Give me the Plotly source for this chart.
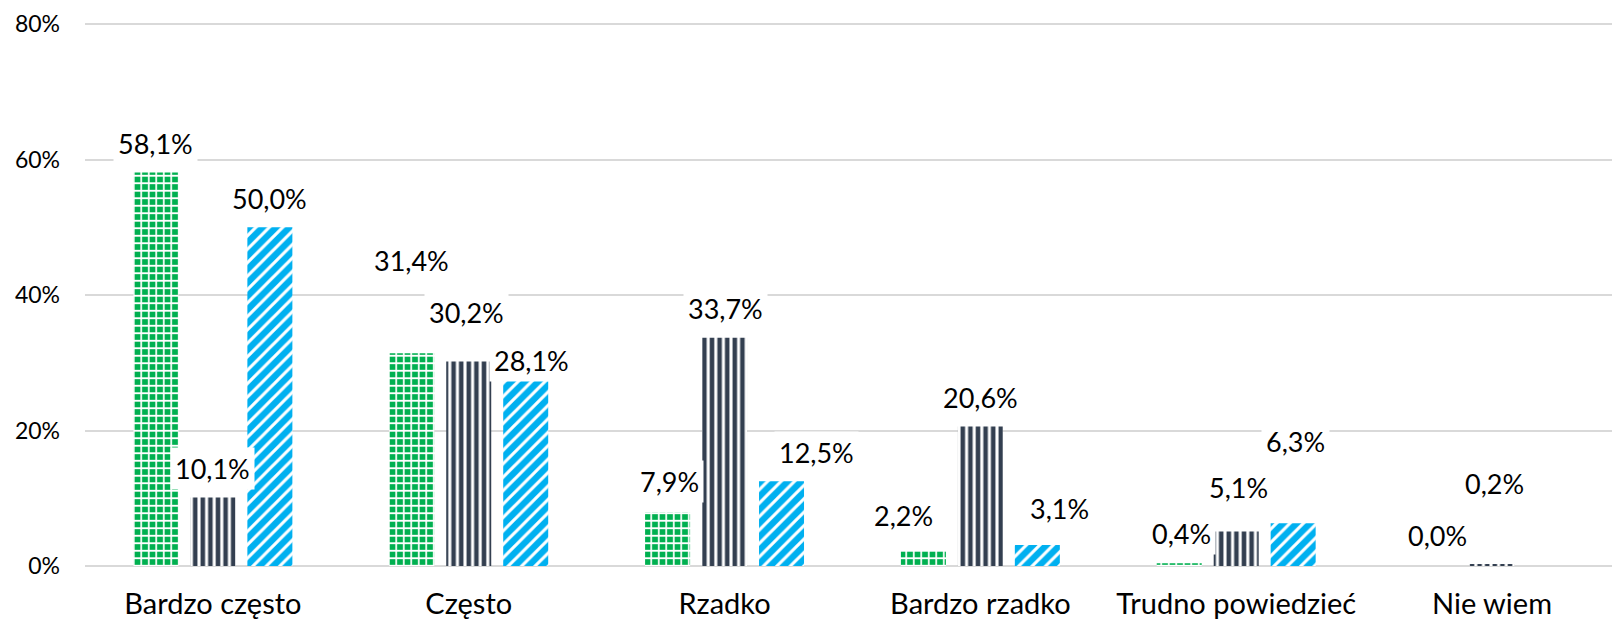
import plotly.graph_objects as go

# ---- data ----
categories = ["Bardzo często", "Często", "Rzadko", "Bardzo rzadko", "Trudno powiedzieć", "Nie wiem"]
series_green = [58.1, 31.4, 7.9, 2.2, 0.4, 0.0]
series_navy = [10.1, 30.2, 33.7, 20.6, 5.1, 0.2]
series_blue = [50.0, 28.1, 12.5, 3.1, 6.3, None]
y_ticks = [0, 20, 40, 60, 80]
y_tick_labels = ["0%", "20%", "40%", "60%", "80%"]

# ---- styling ----
GREEN = "#00B050"
NAVY = "#333F50"
BLUE = "#00B0F0"
FONT = "Lato"
BARGAP = 0.332
GROUPGAP = 0.21

# per-label pixel nudges (dx, dy) relative to bar top-centre, as in the source chart
label_nudges = [
    [(0, 29), (0, 93), (2, 31), (-20, 36), (2, 30), (2, 31)],
    [(0, 29), (-2, 49), (1, 29), (0, 29), (2, 44), (2, 81)],
    [(0, 29), (6, 15), (35, 29), (22, 37), (2, 82), (0, 0)],
]

series = [
    ("s1", series_green, dict(shape="+", fgcolor="white", bgcolor=GREEN, size=7.5, solidity=0.4, fillmode="replace"), GREEN),
    ("s2", series_navy, dict(shape="|", fgcolor=NAVY, bgcolor="white", size=7.6, solidity=0.6, fillmode="replace"), NAVY),
    ("s3", series_blue, dict(shape="/", fgcolor="white", bgcolor=BLUE, size=9.5, solidity=0.33, fillmode="replace"), BLUE),
]

xs = list(range(len(categories)))
fig = go.Figure()
for name, vals, pat, col in series:
    fig.add_trace(go.Bar(
        x=xs, y=vals, name=name,
        marker=dict(color=col, pattern=pat, line=dict(width=0)),
        hoverinfo="skip", showlegend=False,
    ))

slot = (1 - BARGAP) / 3
annotations = []
for k, (name, vals, pat, col) in enumerate(series):
    for i, v in enumerate(vals):
        if v is None:
            continue
        dx, dy = label_nudges[k][i]
        annotations.append(dict(
            x=i + (k - 1) * slot, y=v, xref="x", yref="y",
            text=f"{v:.1f}%".replace(".", ","),
            showarrow=False, xanchor="center", yanchor="middle",
            xshift=dx, yshift=dy,
            bgcolor="white", borderpad=4,
            font=dict(family=FONT, size=27, color="black"),
        ))

fig.update_layout(
    width=1612, height=623, autosize=False,
    margin=dict(l=85, r=0, t=22, b=57, pad=0),
    plot_bgcolor="white", paper_bgcolor="white",
    barmode="group", bargap=BARGAP, bargroupgap=GROUPGAP,
    annotations=annotations,
    font=dict(family=FONT, color="black"),
)
fig.update_xaxes(
    range=[-0.5, 5.469], tickmode="array", tickvals=xs, ticktext=categories,
    showgrid=False, showline=False, zeroline=False, ticks="",
    ticklabelstandoff=18,
    tickfont=dict(family=FONT, size=29, color="black"),
)
fig.update_yaxes(
    range=[0, 80.3], tickmode="array", tickvals=y_ticks, ticktext=y_tick_labels,
    showgrid=True, gridcolor="#D9D9D9", gridwidth=1.6,
    zeroline=True, zerolinecolor="#D9D9D9", zerolinewidth=1.6,
    showline=False, ticks="", ticklabelstandoff=24,
    tickfont=dict(family=FONT, size=23, color="black"),
)

fig.write_html("out.html", config={"displayModeBar": False},
               post_script="document.body.style.margin='0';")
